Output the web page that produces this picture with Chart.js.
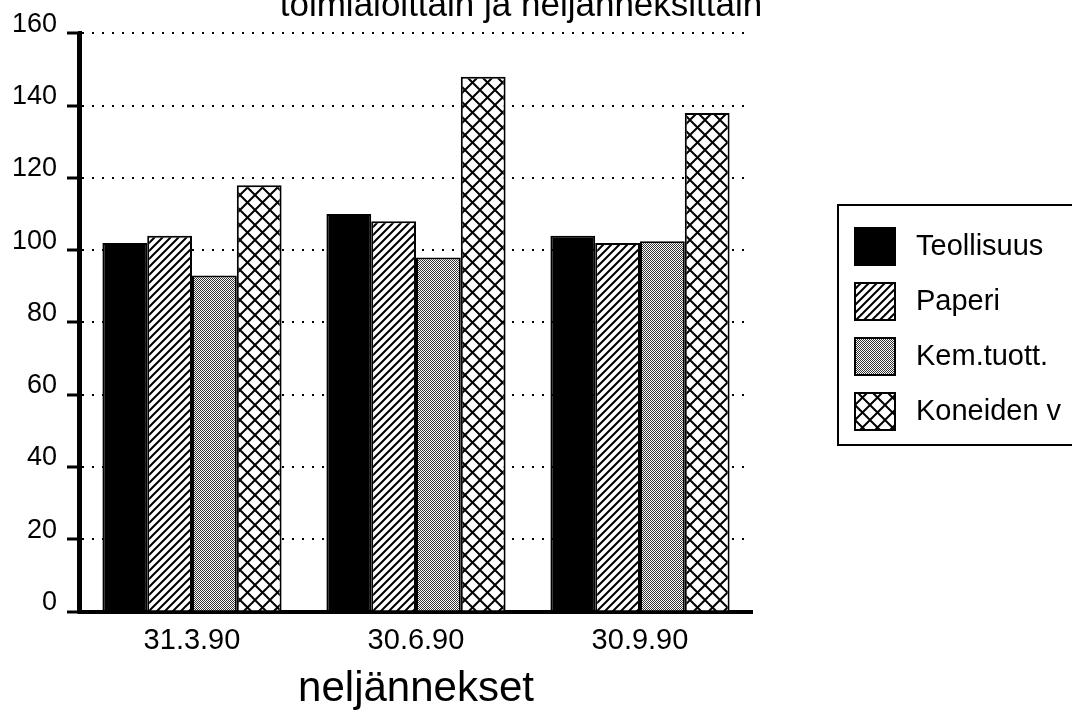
<!DOCTYPE html>
<html>
<head>
<meta charset="utf-8">
<script src="https://cdn.jsdelivr.net/npm/chart.js@4"></script>
<style>
  html, body { margin: 0; padding: 0; background: #fff; }
  #wrap { width: 1072px; height: 717px; overflow: hidden; }
</style>
</head>
<body>
<div id="wrap"><canvas id="chart" width="1072" height="717"></canvas></div>
<script>
// chart values
const quarters = ['31.3.90', '30.6.90', '30.9.90'];
const seriesNames = ['Teollisuus', 'Paperi', 'Kem.tuott.', 'Koneiden v'];
const teollisuus = [102, 110, 104];
const paperi = [104, 108, 102];
const kemTuott = [93, 98, 102.5];
const koneidenV = [118, 148, 138];
const yMin = 0, yMax = 160, yStep = 20;
const titleText = 'toimialoittain ja neljänneksittäin';
const xTitle = 'neljännekset';

const FONT = '"Liberation Sans", Arial, Helvetica, sans-serif';

// helper: make a fill pattern from a small tile
function makePattern(size, draw) {
  const c = document.createElement('canvas');
  c.width = size; c.height = size;
  const g = c.getContext('2d');
  g.fillStyle = '#fff';
  g.fillRect(0, 0, size, size);
  draw(g, size);
  return c.getContext('2d').createPattern(c, 'repeat');
}

const hatch = makePattern(8, (g, s) => {
  g.strokeStyle = '#000';
  g.lineWidth = 2;
  g.beginPath();
  g.moveTo(-1, s + 1); g.lineTo(s + 1, -1);
  g.moveTo(-1, 1); g.lineTo(1, -1);
  g.moveTo(s - 1, s + 1); g.lineTo(s + 1, s - 1);
  g.stroke();
});

const stipple = makePattern(2, (g) => {
  g.fillStyle = '#333';
  g.fillRect(0, 0, 1, 1);
  g.fillRect(1, 1, 1, 1);
});

const cross = makePattern(15, (g, s) => {
  g.strokeStyle = '#000';
  g.lineWidth = 2;
  g.beginPath();
  g.moveTo(0, 0); g.lineTo(s, s);
  g.moveTo(s, 0); g.lineTo(0, s);
  g.stroke();
});

const fills = ['#000', hatch, stipple, cross];
const values = [teollisuus, paperi, kemTuott, koneidenV];

// title (top clipped), solid axis lines and boxed legend
const extras = {
  id: 'extras',
  afterDraw(chart) {
    const ctx = chart.ctx;
    const a = chart.chartArea;
    ctx.save();
    ctx.strokeStyle = '#000';
    ctx.lineWidth = 4;
    ctx.setLineDash([]);
    ctx.beginPath();
    ctx.moveTo(a.left - 1, a.top - 1); ctx.lineTo(a.left - 1, a.bottom + 2);
    ctx.stroke();

    ctx.fillStyle = '#000';
    ctx.font = '35px ' + FONT;
    ctx.textAlign = 'center';
    ctx.textBaseline = 'alphabetic';
    ctx.fillText(titleText, 521, 16);

    ctx.lineWidth = 2;
    ctx.strokeRect(838, 205, 260, 240);
    ctx.font = '29px ' + FONT;
    ctx.textAlign = 'left';
    ctx.textBaseline = 'middle';
    chart.data.datasets.forEach((ds, i) => {
      const y = 228 + i * 55;
      ctx.fillStyle = ds.backgroundColor;
      ctx.fillRect(855, y, 40, 37);
      ctx.strokeRect(855, y, 40, 37);
      ctx.fillStyle = '#000';
      ctx.fillText(ds.label, 916, y + 19);
    });
    ctx.restore();
  }
};

new Chart(document.getElementById('chart'), {
  type: 'bar',
  data: {
    labels: quarters,
    datasets: seriesNames.map((name, i) => ({
      label: name,
      data: values[i],
      backgroundColor: fills[i],
      borderColor: '#000',
      borderWidth: 2,
      barPercentage: 1,
      categoryPercentage: 0.8
    }))
  },
  options: {
    responsive: false,
    animation: false,
    devicePixelRatio: 1,
    layout: { padding: { top: 33.4, right: 320, bottom: 0, left: 0 } },
    plugins: {
      legend: { display: false },
      title: { display: false },
      tooltip: { enabled: false }
    },
    scales: {
      x: {
        grid: { display: false, drawTicks: false },
        border: { display: true, color: '#000', width: 4 },
        ticks: { color: '#000', font: { family: FONT, size: 29 }, padding: 12 },
        title: {
          display: true, text: xTitle, color: '#000',
          font: { family: FONT, size: 42 },
          padding: { top: 0, bottom: 2 }
        },
        afterFit(scale) { scale.height = 105.5; }
      },
      y: {
        min: yMin, max: yMax,
        ticks: {
          stepSize: yStep, color: '#000',
          font: { family: FONT, size: 27 },
          padding: 10, labelOffset: -9
        },
        grid: {
          color: (c) => c.tick && c.tick.value === yMin ? 'rgba(0,0,0,0)' : '#000',
          lineWidth: 2,
          tickLength: 13, tickColor: '#000', tickWidth: 3, tickBorderDash: []
        },
        border: { display: true, color: '#000', width: 4, dash: [2, 8] },
        afterFit(scale) { scale.width = 80; }
      }
    }
  },
  plugins: [extras]
});
</script>
</body>
</html>
